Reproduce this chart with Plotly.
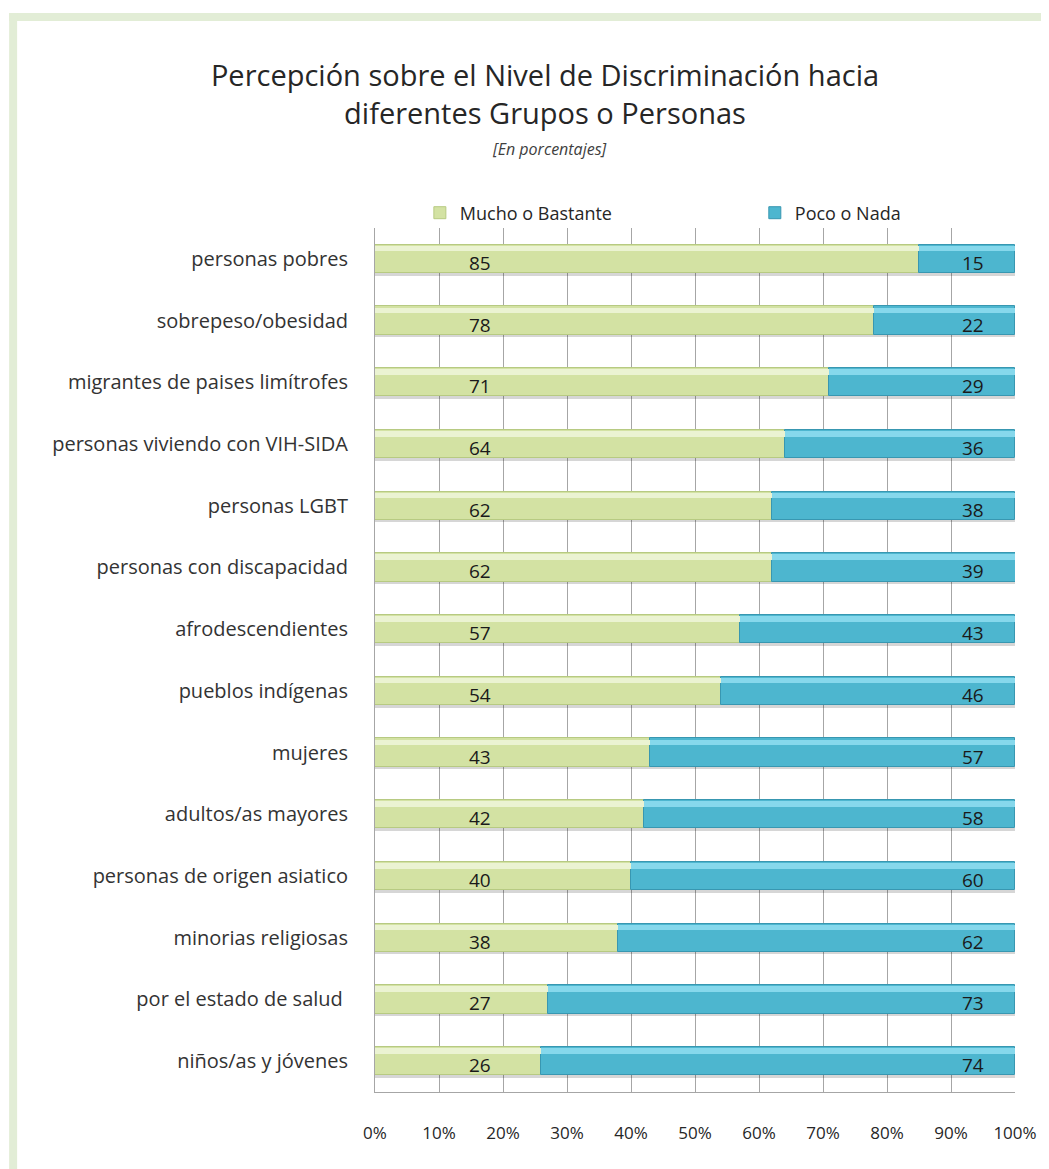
import plotly.graph_objects as go

categories = [
    "personas pobres",
    "sobrepeso/obesidad",
    "migrantes de paises limítrofes",
    "personas viviendo con VIH-SIDA",
    "personas LGBT",
    "personas con discapacidad",
    "afrodescendientes",
    "pueblos indígenas",
    "mujeres",
    "adultos/as mayores",
    "personas de origen asiatico",
    "minorias religiosas",
    "por el estado de salud ",
    "niños/as y jóvenes",
]
mucho = [85, 78, 71, 64, 62, 62, 57, 54, 43, 42, 40, 38, 27, 26]
poco = [15, 22, 29, 36, 38, 39, 43, 46, 57, 58, 60, 62, 73, 74]
series_names = ["Mucho o Bastante", "Poco o Nada"]
x_ticks = [0, 10, 20, 30, 40, 50, 60, 70, 80, 90, 100]
x_ticktext = ["0%", "10%", "20%", "30%", "40%", "50%", "60%", "70%", "80%", "90%", "100%"]

# page body has an 8px margin: work in reference pixels and shift
OFF = 8
W, H = 1049 - OFF, 1169 - OFF
L, R, T, B = 375, 1017, 228, 1092


def px_x(px):
    return (px - L) / (R - L)


def px_y(py):
    return (B - py) / (B - T)


GREEN = "#D3E2A3"
GREEN_HI = "#EBF3D2"
GREEN_LO = "#B7CA82"
BLUE = "#4DB6CF"
BLUE_HI = "#86D8EC"
BLUE_LO = "#3897B1"

BW = 0.46
fig = go.Figure()

# shadow under bars
fig.add_trace(go.Bar(
    y=categories, x=[100] * len(categories), base=0, orientation="h",
    width=0.05, offset=BW / 2 - 0.01,
    marker=dict(color="rgba(0,0,0,0.16)", line=dict(width=0)),
    showlegend=False, hoverinfo="skip",
))

# main bars
fig.add_trace(go.Bar(
    y=categories, x=mucho, base=0, orientation="h", name=series_names[0],
    width=BW, offset=-BW / 2, legend="legend",
    marker=dict(color=GREEN, line=dict(color=GREEN_LO, width=1)),
))
fig.add_trace(go.Bar(
    y=categories, x=poco, base=mucho, orientation="h", name=series_names[1],
    width=BW, offset=-BW / 2, legend="legend2",
    marker=dict(color=BLUE, line=dict(color=BLUE_LO, width=1)),
))

# highlight strips (bevel look)
fig.add_trace(go.Bar(
    y=categories, x=mucho, base=0, orientation="h",
    width=0.09, offset=-BW / 2 + 0.02,
    marker=dict(color=GREEN_HI, line=dict(width=0)),
    showlegend=False, hoverinfo="skip",
))
fig.add_trace(go.Bar(
    y=categories, x=poco, base=mucho, orientation="h",
    width=0.09, offset=-BW / 2 + 0.02,
    marker=dict(color=BLUE_HI, line=dict(width=0)),
    showlegend=False, hoverinfo="skip",
))

annotations = []
for cat, m, p in zip(categories, mucho, poco):
    annotations.append(dict(
        x=16.4, y=cat, xref="x", yref="y", text=str(m), showarrow=False,
        font=dict(size=19, color="#1a1a1a"), yshift=-4,
    ))
    annotations.append(dict(
        x=93.5, y=cat, xref="x", yref="y", text=str(p), showarrow=False,
        font=dict(size=19, color="#1a1a1a"), yshift=-4,
    ))

annotations.append(dict(
    x=px_x(550), y=px_y(149), xref="paper", yref="paper",
    xanchor="center", yanchor="middle",
    text="<i>[En porcentajes]</i>", showarrow=False,
    font=dict(size=16, color="#404040"),
))

shapes = [
    dict(type="rect", xref="paper", yref="paper",
         x0=px_x(8), x1=px_x(1049 + 5), y0=px_y(13), y1=px_y(21),
         fillcolor="#E2EDD6", line=dict(width=0), layer="below"),
    dict(type="rect", xref="paper", yref="paper",
         x0=px_x(8), x1=px_x(16), y0=px_y(13), y1=px_y(1169 + 5),
         fillcolor="#E2EDD6", line=dict(width=0), layer="below"),
]

legend_common = dict(
    orientation="h", xanchor="left", yanchor="middle",
    font=dict(size=18, color="#262626"), bgcolor="rgba(0,0,0,0)",
)

fig.update_layout(
    width=W, height=H,
    margin=dict(l=L - OFF, r=1049 - R, t=T - OFF, b=1169 - B, pad=0),
    paper_bgcolor="white", plot_bgcolor="white",
    font=dict(family="Open Sans", color="#404040"),
    barmode="overlay",
    bargap=0,
    title=dict(
        text="Percepción sobre el Nivel de Discriminación hacia<br>diferentes Grupos o Personas",
        x=(545 - OFF) / W, xanchor="center", y=1 - (86 - OFF) / H, yanchor="middle",
        font=dict(size=29, color="#262626"),
    ),
    legend=dict(x=px_x(420), y=px_y(213), **legend_common),
    legend2=dict(x=px_x(756), y=px_y(213), **legend_common),
    xaxis=dict(
        range=[0, 100], tickvals=x_ticks, ticktext=x_ticktext,
        showgrid=True, gridcolor="#A6A6A6", gridwidth=1,
        zeroline=False, showline=True, linecolor="#A6A6A6", linewidth=1,
        ticks="", tickfont=dict(size=17, color="#262626"),
        ticklabelstandoff=26, fixedrange=True,
    ),
    yaxis=dict(
        categoryorder="array", categoryarray=categories, autorange="reversed",
        showgrid=False, zeroline=False, showline=True, linecolor="#A6A6A6",
        linewidth=1, ticks="", tickfont=dict(size=20, color="#333333"),
        ticklabelstandoff=22, fixedrange=True,
    ),
    annotations=annotations,
    shapes=shapes,
)

fig.write_html("out.html")
